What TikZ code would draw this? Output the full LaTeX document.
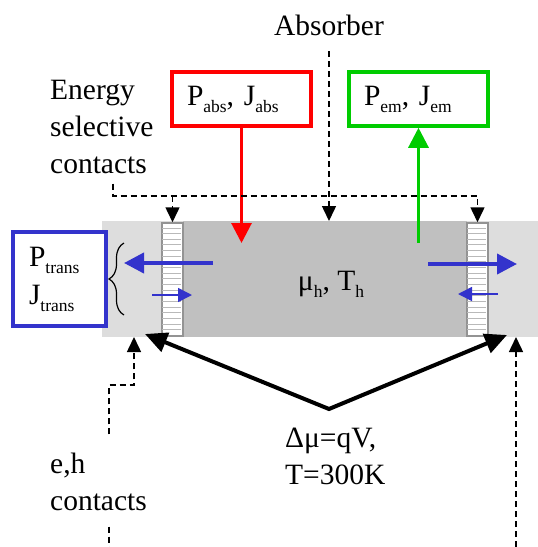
\documentclass[tikz,border=0pt]{standalone}
\usepackage{fontspec}
\setmainfont{Liberation Serif}
\usetikzlibrary{arrows.meta, positioning, calc, decorations.pathreplacing}
\definecolor{barlight}{RGB}{221,221,221}
\definecolor{bardark}{RGB}{192,192,192}
\definecolor{fluxblue}{RGB}{51,51,204}
\definecolor{absred}{RGB}{255,0,0}
\definecolor{emgreen}{RGB}{0,204,0}
\newcommand{\lowsub}[1]{\raisebox{-7pt}{\fontsize{17.5}{17.5}\selectfont #1}}

\begin{document}
\begin{tikzpicture}[
      x=1pt, y=-1pt,
      font=\fontsize{29.5}{37}\selectfont,
      txt/.style={inner sep=0pt, align=left, anchor=west},
      fluxbox/.style={line width=3.5pt, fill=white, inner xsep=15pt, align=left, minimum height=54pt},
      contact/.style={draw=black, line width=1.5pt, dash pattern=on 6pt off 4pt},
      arr/.style={-{Triangle[length=15pt,width=14pt]}},
      stripbox/.style={draw=gray!85, line width=1.5pt, fill=white, minimum width=21pt, minimum height=113pt, inner sep=0pt},
      hatch/.style={draw=gray!55, line width=0.8pt},
      flux/.style={draw=fluxblue, line width=4pt, -{Triangle[length=20pt,width=20pt]}},
      fluxthin/.style={draw=fluxblue, line width=1.5pt, -{Triangle[length=14pt,width=14pt]}},
      bias/.style={line width=4pt, {Triangle[length=22pt,width=20pt]}-{Triangle[length=22pt,width=20pt]}}
  ]
  \useasboundingbox (0,0) rectangle (538,547);

  % Cell
  \node[fill=barlight, minimum width=436pt, minimum height=116pt, inner sep=0pt, anchor=north west] (bar) at (102,221) {};
  \node[fill=bardark, minimum width=284pt, minimum height=116pt, inner sep=0pt, anchor=north west] (absorber) at (183,221) {};
  \node (state) at (331,284) {μ\lowsub{h}, T\lowsub{h}};

  % Energy selective contacts
  \node[stripbox] (lstrip) at (172.5,279.5) {};
  \node[stripbox] (rstrip) at (477.5,279.5) {};
  \foreach \s in {lstrip, rstrip}
    \foreach \k in {1,...,19}
      \draw[hatch] ($(\s.north west)+(1,\k*5.65)$) -- ++(19,0);

  % Fluxes in and out
  \node[fluxbox, draw=absred, text width=109pt] (pabs) at (241.5,99) {P\lowsub{abs}, J\lowsub{abs}};
  \node[fluxbox, draw=emgreen, text width=109pt] (pem) at (418.5,99) {P\lowsub{em}, J\lowsub{em}};
  \coordinate (absin) at (241.5,243);
  \coordinate (emout) at (418.5,243);
  \draw[draw=absred, line width=3pt, -{Triangle[length=20pt,width=20pt]}] (pabs.south) -- (absin);
  \draw[draw=emgreen, line width=3pt, -{Triangle[length=20pt,width=20pt]}] (emout) -- (pem.south);

  % Transmitted carriers
  \node[fluxbox, draw=fluxblue, inner xsep=16pt, text width=61pt, minimum height=94pt, font=\fontsize{29.5}{38}\selectfont] (ptrans) at (59.5,279) {P\lowsub{trans}\\J\lowsub{trans}};
  \draw[line width=1.2pt, decorate, decoration={brace, amplitude=15pt}] (124,315) -- (124,243);
  \coordinate (lhot) at (213,263);   \coordinate (lhotend) at (124,263);
  \coordinate (lcold) at (152,295);  \coordinate (lcoldend) at (192,295);
  \coordinate (rhot) at (428,264);   \coordinate (rhotend) at (517,264);
  \coordinate (rcold) at (498,294);  \coordinate (rcoldend) at (458,294);
  \draw[flux] (lhot) -- (lhotend);
  \draw[fluxthin] (lcold) -- (lcoldend);
  \draw[flux] (rhot) -- (rhotend);
  \draw[fluxthin] (rcold) -- (rcoldend);

  % Labels with dashed pointers
  \node[inner sep=0pt, anchor=base] (abslbl) at (329,35) {Absorber};
  \draw[contact, arr, shorten <=16pt] (abslbl.south) -- (abslbl.south |- bar.north);

  \node[txt] (esclbl) at (50,126.5) {Energy\\selective\\contacts};
  \coordinate (escfoot) at (113,196);
  \draw[contact, arr, shorten <=10pt] (esclbl.south -| escfoot) -- (escfoot) -- (escfoot -| rstrip.north) -- (rstrip.north);
  \draw[contact, arr] (escfoot -| lstrip.north) -- (lstrip.north);

  \node[txt] (ehlbl) at (50,481.5) {e,h\\contacts};
  \coordinate (ehbend) at (109,385);
  \coordinate (lehc) at (134,337);
  \coordinate (ehbot) at (109,547);
  \coordinate (rehc) at (516,337);
  \coordinate (rehbot) at (516,547);
  \draw[contact, arr, shorten <=18pt] (ehlbl.north -| ehbend) -- (ehbend) -- (ehbend -| lehc) -- (lehc);
  \draw[contact, shorten <=16pt] (ehlbl.south -| ehbot) -- (ehbot);
  \draw[contact, arr] (rehbot) -- (rehc);

  % Bias between contacts
  \coordinate (lbias) at (145,334);
  \coordinate (vtx) at (329,409);
  \coordinate (rbias) at (507,335);
  \draw[bias] (lbias) -- (vtx) -- (rbias);
  \node[txt] (biaslbl) at (285,456) {Δμ=qV,\\T=300K};

\end{tikzpicture}
\end{document}
